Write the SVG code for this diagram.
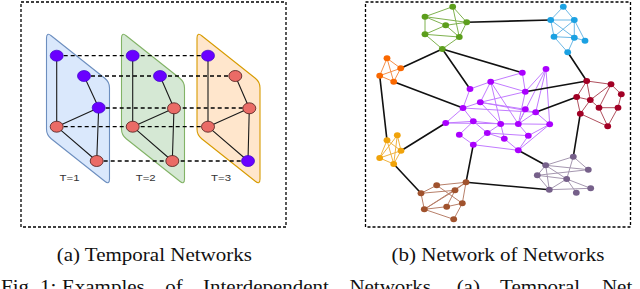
<svg xmlns="http://www.w3.org/2000/svg" width="640" height="289" viewBox="0 0 640 289">
<style>
.frame{fill:none;stroke:#000;stroke-width:1.3;stroke-dasharray:3 2}
.lk{stroke:#000;stroke-width:1.3;stroke-dasharray:4 3;fill:none}
.e{stroke:#1a1a1a;stroke-width:1.1;fill:none}
.pu{fill:#6a00ff;stroke:#3700cc;stroke-width:0.7}
.rd{fill:#ea6b66;stroke:#4a1c1a;stroke-width:0.8}
.tl{font-family:"Liberation Sans",Arial,sans-serif;font-size:9.5px;fill:#333;text-anchor:middle}
.cap{font-family:"Liberation Serif","Times New Roman",serif;font-size:18px;fill:#111}
.blk{stroke:#111;stroke-width:1.6;fill:none}
.eg{stroke:#7fb24f;stroke-width:1;fill:none}
.eb{stroke:#6cb8e6;stroke-width:1;fill:none}
.eo{stroke:#f58f4a;stroke-width:1;fill:none}
.ey{stroke:#efb340;stroke-width:1;fill:none}
.ebr{stroke:#b8806a;stroke-width:1;fill:none}
.egr{stroke:#a597b0;stroke-width:1;fill:none}
.ecr{stroke:#b0505e;stroke-width:1;fill:none}
.ep{stroke:#c27bff;stroke-width:1;fill:none}
.ng{fill:#5c9e1c}.nb{fill:#1ba1e2}.no{fill:#fa6800}.ny{fill:#f0a30a}.nbr{fill:#a0522d}.ngr{fill:#76608a}.ncr{fill:#a20025}.np{fill:#aa00ff}
</style>
<rect width="640" height="289" fill="#fff"/>

<!-- Panel (a) -->
<g id="panel-a">
<rect class="frame" x="21" y="2" width="265" height="225"/>
<g id="plane-t1"><path d="M46.5,38 Q46.5,32 51.2,35.7 L104.8,78.3 Q109.5,82 109.5,88 L109.5,179 Q109.5,185 104.8,181.3 L51.2,138.7 Q46.5,135 46.5,129 Z" fill="#dae8fc" stroke="#6c8ebf" stroke-width="1.1"/></g>
<g id="plane-t2"><path d="M121.5,38 Q121.5,32 126.2,35.7 L179.8,78.3 Q184.5,82 184.5,88 L184.5,179 Q184.5,185 179.8,181.3 L126.2,138.7 Q121.5,135 121.5,129 Z" fill="#d5e8d4" stroke="#82b366" stroke-width="1.1"/></g>
<g id="plane-t3"><path d="M197,38 Q197,32 201.7,35.7 L255.3,78.3 Q260,82 260,88 L260,179 Q260,185 255.3,181.3 L201.7,138.7 Q197,135 197,129 Z" fill="#ffe6cc" stroke="#d79b00" stroke-width="1.1"/></g>
<g id="connectors-a">
<line class="lk" x1="56.7" y1="55.7" x2="208" y2="55.7"/>
<line class="lk" x1="84" y1="76" x2="235.3" y2="76"/>
<line class="lk" x1="98.7" y1="108" x2="249.3" y2="108"/>
<line class="lk" x1="56.7" y1="126.7" x2="208" y2="126.7"/>
<line class="lk" x1="96.7" y1="161" x2="248" y2="161"/>
<path class="e" d="M56.7,55.7 L56.7,126.7 M84,76 L98.7,107.7 M98.7,107.7 L56.7,126.7 M56.7,126.7 L96.7,161 M98.7,107.7 L96.7,161"/>
<path class="e" d="M132.7,55.7 L132.7,126.7 M160,76 L174,108.3 M174,108.3 L132.7,126.7 M132.7,126.7 L172.3,161 M174,108.3 L172.3,161"/>
<path class="e" d="M208,55.7 L208,126.7 M235.3,76 L249.3,108.3 M249.3,108.3 L208,126.7 M208,126.7 L248,161 M249.3,108.3 L248,161"/>
</g>
<g id="nodes-t1">
<ellipse class="pu" cx="56.7" cy="55.7" rx="6.5" ry="5.5"/>
<ellipse class="pu" cx="84" cy="76" rx="6.5" ry="5.5"/>
<ellipse class="pu" cx="98.7" cy="107.7" rx="6.5" ry="5.5"/>
<ellipse class="rd" cx="56.7" cy="126.7" rx="6.5" ry="5.5"/>
<ellipse class="rd" cx="96.7" cy="161" rx="6.5" ry="5.5"/>
<text class="tl" x="69.5" y="180.5" textLength="20" lengthAdjust="spacingAndGlyphs">T=1</text>
</g>
<g id="nodes-t2">
<ellipse class="pu" cx="132.7" cy="55.7" rx="6.5" ry="5.5"/>
<ellipse class="pu" cx="160" cy="76" rx="6.5" ry="5.5"/>
<ellipse class="rd" cx="174" cy="108.3" rx="6.5" ry="5.5"/>
<ellipse class="rd" cx="132.7" cy="126.7" rx="6.5" ry="5.5"/>
<ellipse class="rd" cx="172.3" cy="161" rx="6.5" ry="5.5"/>
<text class="tl" x="145.7" y="180.5" textLength="20" lengthAdjust="spacingAndGlyphs">T=2</text>
</g>
<g id="nodes-t3">
<ellipse class="pu" cx="208" cy="55.7" rx="6.5" ry="5.5"/>
<ellipse class="rd" cx="235.3" cy="76" rx="6.5" ry="5.5"/>
<ellipse class="rd" cx="249.3" cy="108.3" rx="6.5" ry="5.5"/>
<ellipse class="rd" cx="208" cy="126.7" rx="6.5" ry="5.5"/>
<ellipse class="pu" cx="248" cy="161" rx="6.5" ry="5.5"/>
<text class="tl" x="221" y="180.5" textLength="20" lengthAdjust="spacingAndGlyphs">T=3</text>
</g>
</g>

<!-- Panel (b) -->
<g id="panel-b">
<rect class="frame" x="365.5" y="2" width="265" height="225"/>
<g id="connectors-b">
<path class="eg" d="M452.7,6.7L425,16.7 M452.7,6.7L466.7,22.3 M452.7,6.7L459.3,37 M425,16.7L466.7,22.3 M425,16.7L445.7,25.3 M425,16.7L425,34.3 M466.7,22.3L445.7,25.3 M466.7,22.3L459.3,37 M445.7,25.3L425,34.3 M445.7,25.3L459.3,37 M425,34.3L459.3,37 M425,34.3L442.3,49 M459.3,37L442.3,49"/>
<path class="eb" d="M563.3,6.7L550.7,20 M563.3,6.7L574.3,20 M550.7,20L574.3,20 M550.7,20L554,36.7 M550.7,20L574.3,37.7 M574.3,20L554,36.7 M574.3,20L574.3,37.7 M574.3,20L585,40.7 M554,36.7L574.3,37.7 M554,36.7L567.7,52.3 M574.3,37.7L585,40.7 M574.3,37.7L567.7,52.3"/>
<path class="eo" d="M387,58.3L400.7,68.3 M387,58.3L379.7,75.7 M387,58.3L393.7,81.7 M400.7,68.3L379.7,75.7 M400.7,68.3L393.7,81.7 M379.7,75.7L393.7,81.7"/>
<path class="ey" d="M387,140.3L401,150.7 M387,140.3L379.7,158 M387,140.3L393.7,164 M397.3,135.3L401,150.7 M397.3,135.3L393.7,164 M397.3,135.3L379.7,158 M401,150.7L393.7,164 M379.7,158L393.7,164 M401,150.7L379.7,158"/>
<path class="ebr" d="M466,182.3L436.7,185.3 M421,193.3L436.7,185.3 M421,193.3L455,190.3 M421,193.3L424.3,209.3 M436.7,185.3L462.3,203.3 M455,190.3L424.3,209.3 M455,190.3L446.7,206.7 M466,182.3L455,190.3 M466,182.3L462.3,203.3 M462.3,203.3L446.7,206.7 M462.3,203.3L453.7,219.3 M424.3,209.3L446.7,206.7 M424.3,209.3L453.7,219.3 M466,182.3L424.3,209.3"/>
<path class="egr" d="M545.7,165.3L573.3,156.7 M545.7,165.3L588.3,169.7 M573.3,156.7L566.7,179 M573.3,156.7L588.3,169.7 M545.7,165.3L566.7,179 M537.3,175.3L545.7,165.3 M537.3,175.3L588.3,169.7 M537.3,175.3L566.7,179 M537.3,175.3L549.3,189.7 M566.7,179L590.7,188.3 M566.7,179L549.3,189.7 M566.7,179L576.3,192.7 M549.3,189.7L590.7,188.3 M545.7,165.3L549.3,189.7"/>
<path class="ecr" d="M586.7,81L611,84.3 M586.7,81L576.7,97 M586.7,81L590.3,100 M611,84.3L590.3,100 M611,84.3L599,107.7 M611,84.3L621.3,94.3 M576.7,97L590.3,100 M576.7,97L580.3,113.7 M590.3,100L599,107.7 M580.3,113.7L607.7,126.3 M599,107.7L607.7,126.3 M599,107.7L618,107.7 M621.3,94.3L618,107.7 M580.3,113.7L590.3,100 M618,107.7L607.7,126.3"/>
<path class="ep" d="M490.7,81.7L522.3,72.7 M470,89L490.7,81.7 M470,89L463,108 M490.7,81.7L480.3,102.3 M490.7,81.7L525.3,91.7 M490.7,81.7L500.7,124 M490.7,81.7L518.3,124 M522.3,72.7L525.3,91.7 M546,69L525.3,91.7 M546,69L535.7,112.3 M546,69L549.7,124.3 M546,69L518.3,124 M480.3,102.3L525.3,91.7 M480.3,102.3L525.3,109.3 M480.3,102.3L535.7,112.3 M463,108L480.3,102.3 M463,108L473.3,121.3 M463,108L445.7,123 M445.7,123L473.3,121.3 M445.7,123L549.7,124.3 M473.3,121.3L459.3,134.7 M473.3,121.3L487.3,133 M473.3,121.3L500.7,124 M500.7,124L487.3,133 M500.7,124L504.3,138.7 M500.7,124L518.3,124 M518.3,124L535.7,112.3 M518.3,124L528.3,135.7 M549.7,124.3L528.3,135.7 M549.7,124.3L518.3,150.3 M459.3,134.7L473.3,144.7 M487.3,133L473.3,144.7 M487.3,133L504.3,138.7 M473.3,144.7L518.3,150.3 M528.3,135.7L518.3,150.3 M504.3,138.7L518.3,150.3 M525.3,91.7L518.3,124 M525.3,109.3L518.3,124 M480.3,102.3L500.7,124 M535.7,112.3L549.7,124.3 M487.3,133L528.3,135.7 M463,108L535.7,112.3"/>
<path class="blk" d="M466.7,22.3L550.7,20 M442.3,49L400.7,68.3 M442.3,49L470,89 M442.3,49L522.3,72.7 M393.7,81.7L463,108 M379.7,75.7L387,140.3 M401,150.7L445.7,123 M393.7,164L421,193.3 M473.3,144.7L466,182.3 M466,182.3L549.3,189.7 M518.3,150.3L545.7,165.3 M573.3,156.7L580.3,113.7 M567.7,52.3L586.7,81 M525.3,91.7L586.7,81 M535.7,112.3L576.7,97"/>
</g>
<g id="net-green" class="ng">
<ellipse cx="452.7" cy="6.7" rx="3.4" ry="3"/><ellipse cx="425" cy="16.7" rx="3.4" ry="3"/><ellipse cx="466.7" cy="22.3" rx="3.4" ry="3"/><ellipse cx="445.7" cy="25.3" rx="3.4" ry="3"/><ellipse cx="425" cy="34.3" rx="3.4" ry="3"/><ellipse cx="459.3" cy="37" rx="3.4" ry="3"/><ellipse cx="442.3" cy="49" rx="3.4" ry="3"/>
</g>
<g id="net-blue" class="nb">
<ellipse cx="563.3" cy="6.7" rx="3.4" ry="3"/><ellipse cx="550.7" cy="20" rx="3.4" ry="3"/><ellipse cx="574.3" cy="20" rx="3.4" ry="3"/><ellipse cx="554" cy="36.7" rx="3.4" ry="3"/><ellipse cx="574.3" cy="37.7" rx="3.4" ry="3"/><ellipse cx="585" cy="40.7" rx="3.4" ry="3"/><ellipse cx="567.7" cy="52.3" rx="3.4" ry="3"/>
</g>
<g id="net-orange" class="no">
<ellipse cx="387" cy="58.3" rx="3.4" ry="3"/><ellipse cx="400.7" cy="68.3" rx="3.4" ry="3"/><ellipse cx="379.7" cy="75.7" rx="3.4" ry="3"/><ellipse cx="393.7" cy="81.7" rx="3.4" ry="3"/>
</g>
<g id="net-amber" class="ny">
<ellipse cx="387" cy="140.3" rx="3.4" ry="3"/><ellipse cx="397.3" cy="135.3" rx="3.4" ry="3"/><ellipse cx="401" cy="150.7" rx="3.4" ry="3"/><ellipse cx="379.7" cy="158" rx="3.4" ry="3"/><ellipse cx="393.7" cy="164" rx="3.4" ry="3"/>
</g>
<g id="net-brown" class="nbr">
<ellipse cx="466" cy="182.3" rx="3.4" ry="3"/><ellipse cx="436.7" cy="185.3" rx="3.4" ry="3"/><ellipse cx="455" cy="190.3" rx="3.4" ry="3"/><ellipse cx="421" cy="193.3" rx="3.4" ry="3"/><ellipse cx="462.3" cy="203.3" rx="3.4" ry="3"/><ellipse cx="446.7" cy="206.7" rx="3.4" ry="3"/><ellipse cx="424.3" cy="209.3" rx="3.4" ry="3"/><ellipse cx="453.7" cy="219.3" rx="3.4" ry="3"/>
</g>
<g id="net-grey" class="ngr">
<ellipse cx="573.3" cy="156.7" rx="3.4" ry="3"/><ellipse cx="545.7" cy="165.3" rx="3.4" ry="3"/><ellipse cx="588.3" cy="169.7" rx="3.4" ry="3"/><ellipse cx="537.3" cy="175.3" rx="3.4" ry="3"/><ellipse cx="566.7" cy="179" rx="3.4" ry="3"/><ellipse cx="590.7" cy="188.3" rx="3.4" ry="3"/><ellipse cx="549.3" cy="189.7" rx="3.4" ry="3"/><ellipse cx="576.3" cy="192.7" rx="3.4" ry="3"/>
</g>
<g id="net-crimson" class="ncr">
<ellipse cx="586.7" cy="81" rx="3.4" ry="3"/><ellipse cx="611" cy="84.3" rx="3.4" ry="3"/><ellipse cx="576.7" cy="97" rx="3.4" ry="3"/><ellipse cx="590.3" cy="100" rx="3.4" ry="3"/><ellipse cx="621.3" cy="94.3" rx="3.4" ry="3"/><ellipse cx="599" cy="107.7" rx="3.4" ry="3"/><ellipse cx="618" cy="107.7" rx="3.4" ry="3"/><ellipse cx="580.3" cy="113.7" rx="3.4" ry="3"/><ellipse cx="607.7" cy="126.3" rx="3.4" ry="3"/>
</g>
<g id="net-purple" class="np">
<ellipse cx="522.3" cy="72.7" rx="3.4" ry="3"/><ellipse cx="546" cy="69" rx="3.4" ry="3"/><ellipse cx="490.7" cy="81.7" rx="3.4" ry="3"/><ellipse cx="470" cy="89" rx="3.4" ry="3"/><ellipse cx="525.3" cy="91.7" rx="3.4" ry="3"/><ellipse cx="480.3" cy="102.3" rx="3.4" ry="3"/><ellipse cx="463" cy="108" rx="3.4" ry="3"/><ellipse cx="525.3" cy="109.3" rx="3.4" ry="3"/><ellipse cx="535.7" cy="112.3" rx="3.4" ry="3"/><ellipse cx="445.7" cy="123" rx="3.4" ry="3"/><ellipse cx="473.3" cy="121.3" rx="3.4" ry="3"/><ellipse cx="500.7" cy="124" rx="3.4" ry="3"/><ellipse cx="518.3" cy="124" rx="3.4" ry="3"/><ellipse cx="549.7" cy="124.3" rx="3.4" ry="3"/><ellipse cx="459.3" cy="134.7" rx="3.4" ry="3"/><ellipse cx="487.3" cy="133" rx="3.4" ry="3"/><ellipse cx="528.3" cy="135.7" rx="3.4" ry="3"/><ellipse cx="504.3" cy="138.7" rx="3.4" ry="3"/><ellipse cx="473.3" cy="144.7" rx="3.4" ry="3"/><ellipse cx="518.3" cy="150.3" rx="3.4" ry="3"/>
</g>
</g>

<!-- Captions -->
<g id="captions" transform="scale(1.167,1)">
<text class="cap" x="132.2" y="261" text-anchor="middle">(a) Temporal Networks</text>
<text class="cap" x="426.7" y="261" text-anchor="middle">(b) Network of Networks</text>
<text class="cap" y="293.5"><tspan x="0.9">Fig.</tspan><tspan x="34.3">1:</tspan><tspan x="53.1">Examples</tspan><tspan x="141.6">of</tspan><tspan x="174">Interdependent</tspan><tspan x="299.4">Networks.</tspan><tspan x="391.3">(a)</tspan><tspan x="428.5">Temporal</tspan><tspan x="515.8">Net</tspan></text>
</g>
</svg>
